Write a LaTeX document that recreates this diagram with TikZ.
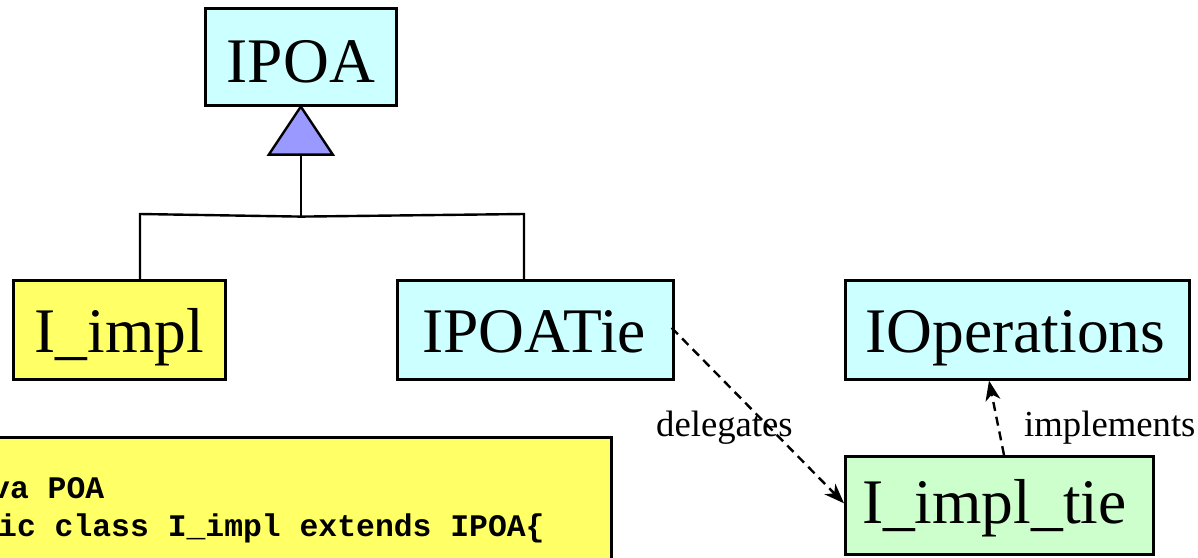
\documentclass[tikz,border=0pt]{standalone}
\usepackage{fontspec}
\setmainfont{Liberation Serif}
\newfontfamily\codefont{Liberation Mono}
\usetikzlibrary{calc,arrows.meta}
\definecolor{boxcyan}{HTML}{CCFFFF}
\definecolor{boxyellow}{HTML}{FFFF66}
\definecolor{boxgreen}{HTML}{CCFFCC}
\definecolor{trifill}{HTML}{9999FF}
\tikzset{
  box/.style={draw=black, line width=2.6pt, inner sep=0pt, anchor=north west},
  bigtext/.style={inner sep=0pt, anchor=base, font=\fontsize{63.5}{70}\selectfont},
  reltext/.style={inner sep=0pt, anchor=base west, font=\fontsize{36.7}{40}\selectfont},
  codetext/.style={inner sep=0pt, anchor=base west, font=\codefont\bfseries\fontsize{31.4}{37}\selectfont},
  conn/.style={draw=black, line width=2.4pt},
  depend/.style={draw=black, line width=2.4pt, dash pattern=on 9pt off 6pt,
    -{Stealth[length=20pt,width=15pt,inset=6pt]}},
}
\begin{document}
\begin{tikzpicture}[x=1pt,y=-1pt]
\useasboundingbox (0,0) rectangle (1198,557);
\clip (0,0) rectangle (1198,557);
\fill[white] (0,0) rectangle (1198,557);
% code box
\node[box, fill=boxyellow, minimum width=630pt, minimum height=150pt] (code) at (-20,436) {};
\node[codetext] (code1) at (-9,498) {va POA};
\node[codetext] (code2) at (-2,536) {ic class I\_impl extends IPOA\{};
% class boxes
\node[box, fill=boxcyan, minimum width=191pt, minimum height=97pt] (ipoa) at (204,7) {};
\node[bigtext] (ipoaT) at ($(ipoa.north)+(0,75)$) {IPOA};
\node[box, fill=boxyellow, minimum width=212pt, minimum height=99pt] (impl) at (12,279) {};
\node[bigtext] (implT) at ($(impl.north)+(0,73)$) {I\_impl};
\node[box, fill=boxcyan, minimum width=276pt, minimum height=99pt] (tie) at (396,279) {};
\node[bigtext] (tieT) at ($(tie.north)+(-1,73)$) {IPOATie};
\node[box, fill=boxcyan, minimum width=344pt, minimum height=99pt] (iops) at (844,279) {};
\node[bigtext] (iopsT) at ($(iops.north)+(-2,73)$) {IOperations};
\node[box, fill=boxgreen, minimum width=308pt, minimum height=98pt] (impltie) at (844,455) {};
\node[bigtext] (impltieT) at ($(impltie.north)+(-5,68)$) {I\_impl\_tie};
% generalization
\coordinate (apex) at (ipoa.south);
\coordinate (junction) at ($(apex)+(0,110)$);
\draw[conn, fill=trifill, line join=miter] (apex) -- ++(-32,48) -- ++(64,0) -- cycle;
\draw[conn] ($(apex)+(0,48)$) -- (junction);
\draw[conn] (junction) -- ($(impl.north west)+(128,-65)$) -- ($(impl.north west)+(128,0)$);
\draw[conn] (junction) -- ($(tie.north west)+(128,-65)$) -- ($(tie.north west)+(128,0)$);
% dependencies
\draw[depend] ($(tie.east)+(-3,-2)$) -- ($(impltie.west)+(0,-2)$);
\node[reltext] (delegates) at (656,436) {delegates};
\draw[depend] ($(impltie.north west)+(160,0)$) -- ($(iops.south west)+(145,0)$);
\node[reltext] (implements) at (1024,436) {implements};
\end{tikzpicture}
\end{document}
